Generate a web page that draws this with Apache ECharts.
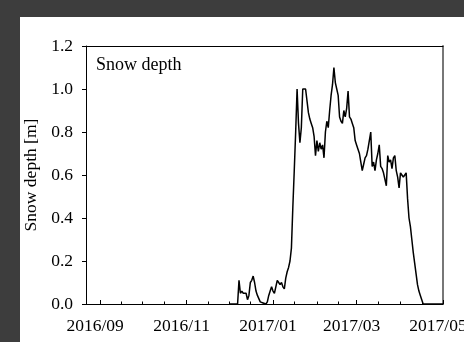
<!DOCTYPE html>
<html>
<head>
<meta charset="utf-8">
<script src="https://cdn.jsdelivr.net/npm/echarts@6/dist/echarts.min.js"></script>
<style>
  html, body { margin: 0; padding: 0; background: #ffffff; }
  #chart { width: 464px; height: 342px; }
</style>
</head>
<body>
<div id="chart"></div>
<script>
// Daily snow depth [m], starting 2016-12-01
const seriesStart = [2016, 11, 1];
const snowDepth = [
  0, 0, 0, 0, 0, 0, 0, 0.11, 0.05, 0.06,
  0.05, 0.055, 0.05, 0.02, 0.04, 0.10, 0.11, 0.13, 0.10, 0.06,
  0.04, 0.04, 0.01, 0.01, 0.005, 0, 0, 0.01, 0.04, 0.06,
  0.08, 0.06, 0.05, 0.08, 0.11, 0.10, 0.09, 0.10, 0.08, 0.07,
  0.12, 0.15, 0.17, 0.20, 0.26, 0.45, 0.62, 0.80, 1.00, 0.84,
  0.75, 0.82, 1.00, 1.00, 1.00, 1.00, 0.89, 0.86, 0.84, 0.82,
  0.78, 0.69, 0.76, 0.71, 0.75, 0.72, 0.74, 0.68, 0.80, 0.85,
  0.82, 0.90, 0.97, 1.02, 1.10, 1.03, 1.00, 0.97, 0.87, 0.85,
  0.84, 0.90, 0.87, 0.91, 0.99, 0.87, 0.86, 0.84, 0.82, 0.76,
  0.74, 0.72, 0.70, 0.66, 0.62, 0.65, 0.68, 0.69, 0.72, 0.76,
  0.80, 0.64, 0.66, 0.62, 0.67, 0.70, 0.74, 0.64, 0.63, 0.61,
  0.61, 0.55, 0.69, 0.66, 0.67, 0.63, 0.68, 0.69, 0.62, 0.59,
  0.54, 0.61, 0.60, 0.59, 0.60, 0.61, 0.49, 0.40, 0.36, 0.30,
  0.24, 0.19, 0.14, 0.09, 0.06, 0.04, 0.02, 0, 0, 0,
  0, 0, 0, 0, 0, 0, 0, 0, 0, 0,
  0, 0
];

// Axis range and ticks
const axisStart = [2016, 7, 22];
const axisEnd = [2017, 4, 1];
const labelDates = [[2016, 8, 1], [2016, 10, 1], [2017, 0, 1], [2017, 2, 1], [2017, 4, 1]];
const tickLabels = ['2016/09', '2016/11', '2017/01', '2017/03', '2017/05'];
const minorTickDates = [
  [2016, 8, 16], [2016, 9, 1], [2016, 9, 16], [2016, 10, 16], [2016, 11, 1], [2016, 11, 16],
  [2017, 0, 16], [2017, 1, 1], [2017, 1, 16], [2017, 2, 16], [2017, 3, 1], [2017, 3, 16]
];

const ts = (d) => new Date(d[0], d[1], d[2]).getTime();
const DAY = 86400000;
const t0 = ts(seriesStart);
const lineData = snowDepth.map((v, i) => [t0 + i * DAY, v]);
const labelTs = labelDates.map(ts);
const xMin = ts(axisStart);
const xMax = ts(axisEnd);

const FONT = 'Liberation Serif';
const chart = echarts.init(document.getElementById('chart'), null, { renderer: 'canvas' });

chart.setOption({
  backgroundColor: '#ffffff',
  animation: false,
  grid: { left: 86, right: 21, top: 46, bottom: 38, containLabel: false, outerBoundsMode: 'none' },
  xAxis: [
    {
      type: 'value',
      min: xMin,
      max: xMax,
      position: 'bottom',
      axisLine: { show: true, onZero: false, lineStyle: { color: '#000', width: 1 } },
      axisTick: { show: true, inside: true, length: 4, customValues: labelTs, lineStyle: { color: '#000' } },
      axisLabel: {
        show: true,
        customValues: labelTs,
        showMinLabel: true,
        showMaxLabel: true,
        hideOverlap: false,
        margin: 13,
        padding: [0, 10, 0, 0],
        fontFamily: FONT,
        fontSize: 17.5,
        color: '#000',
        formatter: (v) => {
          const idx = labelTs.findIndex(t => Math.abs(t - v) < DAY);
          return idx >= 0 ? tickLabels[idx] : '';
        }
      },
      splitLine: { show: false }
    },
    {
      type: 'value',
      min: xMin,
      max: xMax,
      position: 'bottom',
      axisLine: { show: false, onZero: false },
      axisTick: { show: true, inside: true, length: 2.5, customValues: minorTickDates.map(ts), lineStyle: { color: '#000' } },
      axisLabel: { show: false },
      splitLine: { show: false }
    },
    {
      type: 'value',
      min: xMin,
      max: xMax,
      position: 'top',
      axisLine: { show: true, onZero: false, lineStyle: { color: '#000', width: 1 } },
      axisTick: { show: false },
      axisLabel: { show: false },
      splitLine: { show: false }
    }
  ],
  yAxis: [
    {
      type: 'value',
      min: 0,
      max: 1.2,
      interval: 0.2,
      name: 'Snow depth [m]',
      nameLocation: 'middle',
      nameGap: 46,
      nameTextStyle: { fontFamily: FONT, fontSize: 17.5, color: '#000' },
      axisLine: { show: true, onZero: false, lineStyle: { color: '#000', width: 1 } },
      axisTick: { show: true, length: 4, lineStyle: { color: '#000' } },
      axisLabel: {
        margin: 13,
        fontFamily: FONT,
        fontSize: 17.5,
        color: '#000',
        formatter: (v) => v.toFixed(1)
      },
      splitLine: { show: false }
    },
    {
      type: 'value',
      min: 0,
      max: 1.2,
      position: 'right',
      axisLine: { show: true, onZero: false, lineStyle: { color: '#777', width: 2 } },
      axisTick: { show: false },
      axisLabel: { show: false },
      splitLine: { show: false }
    }
  ],
  graphic: [
    { type: 'rect', left: 0, top: 0, shape: { width: 464, height: 17 }, style: { fill: '#3d3d3d' }, silent: true },
    { type: 'rect', left: 0, top: 0, shape: { width: 20, height: 342 }, style: { fill: '#3d3d3d' }, silent: true },
    {
      type: 'text', x: 96, y: 65,
      style: { text: 'Snow depth', fontFamily: FONT, fontSize: 18, fill: '#000', verticalAlign: 'middle', align: 'left' }
    }
  ],
  series: [
    {
      type: 'line',
      xAxisIndex: 0,
      yAxisIndex: 0,
      data: lineData,
      showSymbol: false,
      symbol: 'none',
      lineStyle: { color: '#000', width: 1.5 },
      clip: true
    }
  ]
});
</script>
</body>
</html>
